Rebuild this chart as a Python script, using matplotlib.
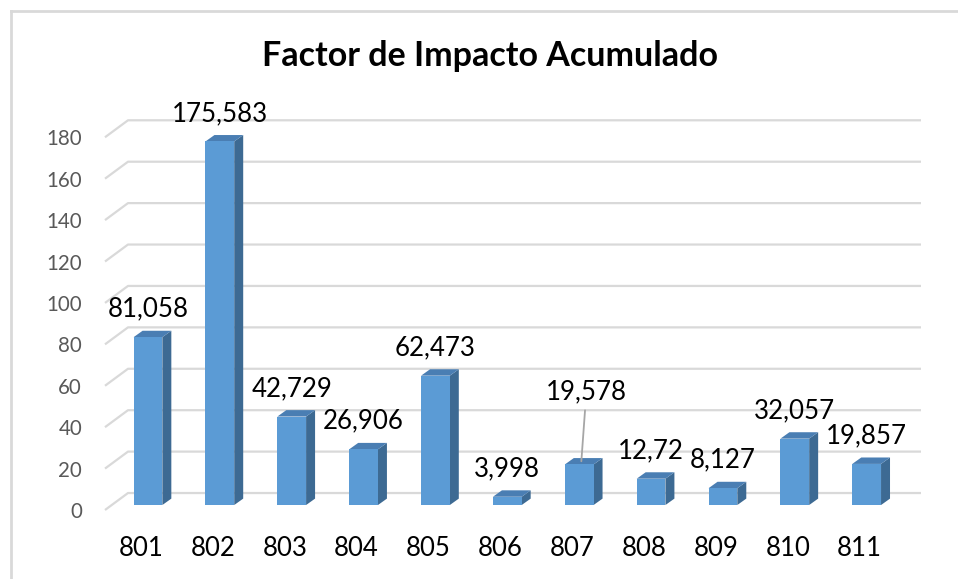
import matplotlib
matplotlib.use("Agg")
import matplotlib.pyplot as plt
from matplotlib.patches import Polygon
from matplotlib.lines import Line2D

# Data
categories = ["801", "802", "803", "804", "805", "806", "807", "808", "809", "810", "811"]
values = [81.058, 175.583, 42.729, 26.906, 62.473, 3.998, 19.578, 12.72, 8.127, 32.057, 19.857]
labels = ["81,058", "175,583", "42,729", "26,906", "62,473", "3,998",
          "19,578", "12,72", "8,127", "32,057", "19,857"]
yticks = [0, 20, 40, 60, 80, 100, 120, 140, 160, 180]
title = "Factor de Impacto Acumulado"

FONT = ["Lato", "DejaVu Sans"]
plt.rcParams["font.family"] = FONT

# 3d look (in data units)
wall_dx, wall_dy = 0.32, 8.2     # front -> back wall
bar_dx, bar_dy = 0.097, 2.4      # front plane -> bar front face
side_dx, side_dy = 0.125, 3.1    # bar depth
bar_w = 0.40
front_c, side_c, top_c = "#5B9BD5", "#3D6A93", "#4A7EB3"
grid_c = "#D9D9D9"

fig = plt.figure(figsize=(9.58, 5.79), dpi=100)
ax = fig.add_axes([0.1096, 0.11917, 0.85177, 0.70812])
x0, x1 = -0.501, 10.853
ax.set_xlim(x0, x1)
ax.set_ylim(0, 198)
for s in ax.spines.values():
    s.set_visible(False)

# slanted gridlines (floor/wall)
for t in yticks:
    ax.plot([x0, x0 + wall_dx, x1], [t, t + wall_dy, t + wall_dy],
            color=grid_c, lw=1.6, clip_on=False, zorder=1, solid_capstyle="butt")

# bars with side and top faces
for i, v in enumerate(values):
    xl = i + bar_dx - bar_w / 2
    xr = i + bar_dx + bar_w / 2
    yb = bar_dy
    yt = bar_dy + v
    ax.add_patch(Polygon([(xr, yb), (xr + side_dx, yb + side_dy),
                          (xr + side_dx, yt + side_dy), (xr, yt)],
                         closed=True, fc=side_c, ec="none", zorder=3, clip_on=False))
    ax.add_patch(Polygon([(xl, yt), (xr, yt), (xr + side_dx, yt + side_dy),
                          (xl + side_dx, yt + side_dy)],
                         closed=True, fc=top_c, ec="none", zorder=3, clip_on=False))
    ax.add_patch(Polygon([(xl, yb), (xr, yb), (xr, yt), (xl, yt)],
                         closed=True, fc=front_c, ec="none", zorder=4, clip_on=False))

# data labels
for i, (v, lab) in enumerate(zip(values, labels)):
    if lab == "19,578":
        ax.annotate(lab, xy=(i + bar_dx + 0.03, v + bar_dy + side_dy * 0.5),
                    xytext=(3.6, 49.7), textcoords="offset points",
                    ha="center", va="center", fontsize=18.6, color="black", zorder=6,
                    arrowprops=dict(arrowstyle="-", color="#A6A6A6", lw=1.3,
                                    shrinkA=2, shrinkB=0))
    else:
        ax.annotate(lab, xy=(i + bar_dx, v + bar_dy), xytext=(0, 20.2),
                    textcoords="offset points", ha="center", va="center",
                    fontsize=18.6, color="black", zorder=6)

ax.set_yticks(yticks)
ax.set_yticklabels([str(t) for t in yticks])
ax.tick_params(axis="y", length=0, pad=16.5, labelsize=14.8, labelcolor="#595959")
ax.set_xticks(range(len(categories)))
ax.set_xticklabels(categories)
ax.tick_params(axis="x", length=0, pad=18.5, labelsize=18.5, labelcolor="black")

fig.text(0.5115, 0.903, title, ha="center", va="center", fontsize=24.5,
         fontweight="bold", color="black")

# chart area border (left and top)
fig.add_artist(Line2D([10.5 / 958, 10.5 / 958], [0, 1 - 11 / 579], color=grid_c, lw=2))
fig.add_artist(Line2D([10.5 / 958, 1], [1 - 11 / 579, 1 - 11 / 579], color=grid_c, lw=2))

fig.savefig("out.png", dpi=100)
